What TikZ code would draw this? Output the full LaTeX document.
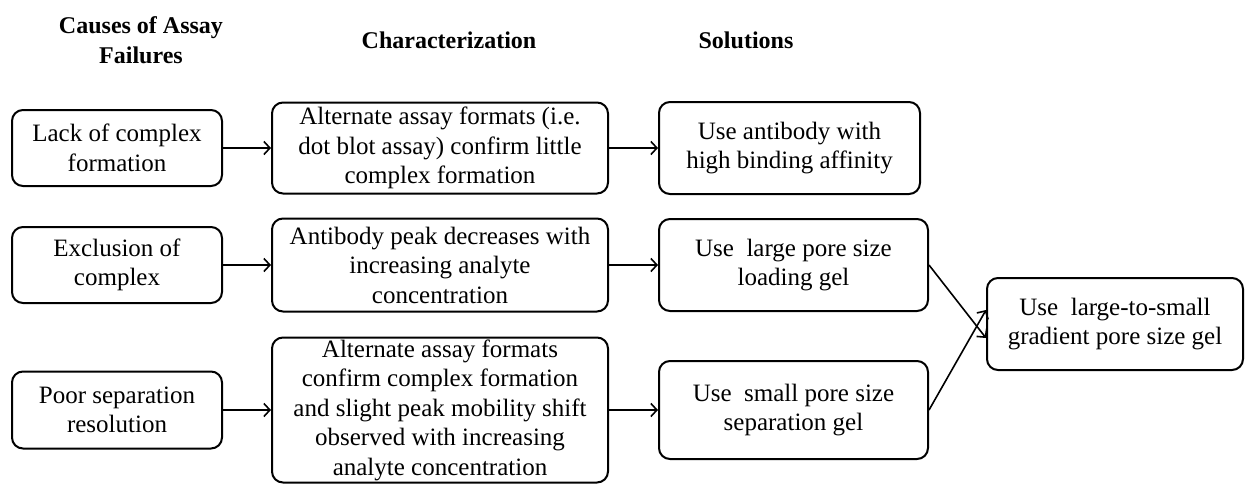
\documentclass[tikz,border=0pt]{standalone}
\usepackage{fontspec}
\setmainfont{Liberation Serif}
\usetikzlibrary{arrows.meta}
\tikzset{
  box/.style={draw, line width=2pt, rounded corners=11pt, align=center, inner sep=0pt,
    font=\fontsize{25}{29.5}\selectfont},
  head/.style={align=center, inner sep=0pt, font=\fontsize{24}{30}\selectfont\bfseries},
  conn/.style={line width=1.6pt, -{Straight Barb[length=6pt,width=13pt,line width=1.6pt]}}
}
\begin{document}
\begin{tikzpicture}[x=1pt,y=-1pt]
\useasboundingbox (0,0) rectangle (1247,485);
% headers
\node[head] (h1) at (141,40) {Causes of Assay\\Failures};
\node[head, anchor=base] (h2) at (449,48) {Characterization};
\node[head, anchor=base] (h3) at (746,48) {Solutions};
% column A
\node[box, minimum width=210pt, minimum height=76pt] (a1) at (117,148) {Lack of complex\\formation};
\node[box, minimum width=210pt, minimum height=76pt] (a2) at (117,265) {Exclusion of\\complex};
\node[box, minimum width=210pt, minimum height=77pt] (a3) at (117,410) {Poor separation\\resolution};
% column B
\node[box, minimum width=336pt, minimum height=91pt] (b1) at (440,148) {Alternate assay formats (i.e.\\dot blot assay) confirm little\\complex formation};
\node[box, minimum width=336pt, minimum height=93pt] (b2) at (440,265) {Antibody peak decreases with\\increasing analyte\\concentration};
\node[box, minimum width=336pt, minimum height=145pt] (b3) at (440,410) {Alternate assay formats\\confirm complex formation\\and slight peak mobility shift\\observed with increasing\\analyte concentration};
% column C
\node[box, minimum width=261pt, minimum height=92pt] (c1) at (789.5,148) {Use antibody with\\high binding affinity};
\node[box, minimum width=269pt, minimum height=92pt] (c2) at (793.5,265) {Use~ large pore size\\loading gel};
\node[box, minimum width=269pt, minimum height=98pt] (c3) at (793.5,410) {Use~ small pore size\\separation gel};
% D
\node[box, minimum width=256pt, minimum height=92pt] (d) at (1115,324) {Use~ large-to-small\\gradient pore size gel};
% connectors
\draw[conn] (a1) -- (b1);
\draw[conn] (b1) -- (c1);
\draw[conn] (a2) -- (b2);
\draw[conn] (b2) -- (c2);
\draw[conn] (a3) -- (b3);
\draw[conn] (b3) -- (c3);
\draw[conn] (c2.east) -- ([yshift=-14pt]d.west);
\draw[conn] (c3.east) -- ([yshift=14pt]d.west);
\end{tikzpicture}
\end{document}
